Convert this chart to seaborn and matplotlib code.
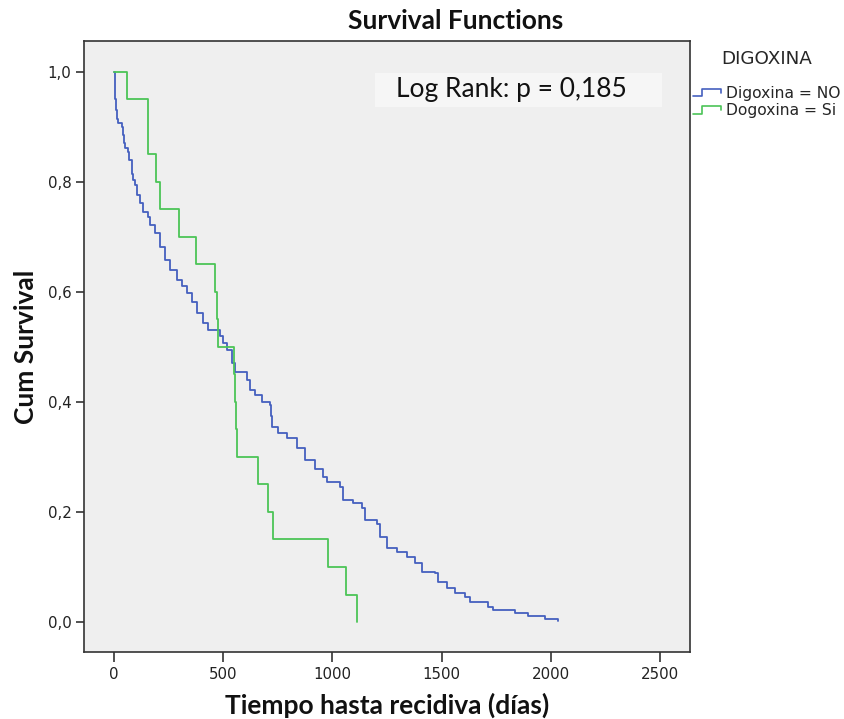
import numpy as np
import pandas as pd
import matplotlib
matplotlib.use("Agg")
import matplotlib.pyplot as plt
import seaborn as sns
from matplotlib.legend_handler import HandlerBase
from matplotlib.lines import Line2D
from matplotlib.patches import Rectangle

# ---------------- data ----------------
group_labels = ["Digoxina = NO", "Dogoxina = Si"]

no_time = [0, 3, 6, 9, 14, 20, 35, 43, 46, 50, 65, 70, 81, 84, 86, 96, 107, 119,
           134, 154, 165, 188, 211, 233, 256, 287, 310, 333, 356, 379, 409, 432,
           485, 500, 516, 539, 554, 608, 623, 646, 676, 714, 718, 722, 752, 791,
           837, 875, 920, 958, 974, 1035, 1050, 1096, 1134, 1149, 1203, 1218,
           1249, 1294, 1340, 1378, 1409, 1470, 1485, 1523, 1561, 1607, 1630,
           1714, 1737, 1836, 1894, 1973, 2034]
no_surv = [1.0, 0.975, 0.95, 0.93, 0.915, 0.907, 0.90, 0.885, 0.87, 0.861, 0.855,
           0.84, 0.828, 0.815, 0.804, 0.795, 0.776, 0.761, 0.746, 0.737, 0.722,
           0.707, 0.682, 0.658, 0.64, 0.622, 0.610, 0.598, 0.582, 0.561, 0.543,
           0.531, 0.519, 0.507, 0.494, 0.470, 0.455, 0.44, 0.422, 0.413, 0.40,
           0.394, 0.375, 0.355, 0.343, 0.334, 0.316, 0.295, 0.279, 0.264, 0.255,
           0.246, 0.222, 0.216, 0.207, 0.185, 0.179, 0.155, 0.134, 0.128, 0.119,
           0.107, 0.0915, 0.0885, 0.073, 0.061, 0.052, 0.046, 0.037, 0.028,
           0.022, 0.016, 0.011, 0.0055, 0.002]

si_time = [0, 60, 157, 191, 211, 298, 375, 462, 470, 477, 548, 552, 557, 562,
           661, 707, 727, 978, 1061, 1111]
si_surv = [1.0, 0.95, 0.85, 0.80, 0.75, 0.70, 0.65, 0.60, 0.55, 0.50, 0.45,
           0.40, 0.35, 0.30, 0.25, 0.20, 0.15, 0.10, 0.05, 0.0]

x_ticks = [0, 500, 1000, 1500, 2000, 2500]
y_ticks = [0.0, 0.2, 0.4, 0.6, 0.8, 1.0]
y_tick_labels = ["0,0", "0,2", "0,4", "0,6", "0,8", "1,0"]

title = "Survival Functions"
x_label = "Tiempo hasta recidiva (días)"
y_label = "Cum Survival"
legend_title = "DIGOXINA"
annotation = "Log Rank: p = 0,185"

# ---------------- style ----------------
BLUE = "#4560bf"
GREEN = "#4cc457"
sns.set_theme(style="ticks")
plt.rcParams["font.family"] = ["DejaVu Sans"]

df = pd.concat([
    pd.DataFrame({"t": no_time, "S": no_surv, "grupo": group_labels[0]}),
    pd.DataFrame({"t": si_time, "S": si_surv, "grupo": group_labels[1]}),
], ignore_index=True)

fig = plt.figure(figsize=(8.45, 7.19), dpi=100)
ax = fig.add_axes([84 / 845, 1 - 652 / 719, 606 / 845, 611 / 719])
ax.set_facecolor("#efefef")

sns.lineplot(data=df, x="t", y="S", hue="grupo",
             palette={group_labels[0]: BLUE, group_labels[1]: GREEN},
             drawstyle="steps-post", estimator=None, legend=False,
             linewidth=1.3, ax=ax)

ax.set_xlim(-137, 2637)
ax.set_ylim(-0.0545, 1.056)
ax.set_xticks(x_ticks)
ax.set_xticklabels([str(v) for v in x_ticks])
ax.set_yticks(y_ticks)
ax.set_yticklabels(y_tick_labels)
ax.tick_params(axis="x", direction="out", length=7.5, width=1.2,
               color="#333333", labelsize=10.8, labelcolor="#222222", pad=3)
ax.tick_params(axis="y", direction="out", length=6, width=1.2,
               color="#333333", labelsize=10.8, labelcolor="#222222", pad=3)
for s in ax.spines.values():
    s.set_color("#333333")
    s.set_linewidth(1.2)

lab_font = dict(family="Lato", weight="bold", size=19, color="#111111")
ax.set_xlabel(x_label, labelpad=8, **lab_font)
ax.set_ylabel(y_label, labelpad=7, **lab_font)
fig.text(456 / 845, 1 - 21 / 719, title, ha="center", va="center", **lab_font)

# annotation box
ax.add_patch(Rectangle((0.480, 0.892), 0.474, 0.056, transform=ax.transAxes,
                       facecolor="#f6f6f6", edgecolor="none", zorder=1))
ax.text(0.515, 0.920, annotation, transform=ax.transAxes, ha="left",
        va="center", family="Lato", size=19, color="#111111", zorder=3)


class StepHandler(HandlerBase):
    def create_artists(self, legend, orig_handle, xdescent, ydescent,
                       width, height, fontsize, trans):
        xs = np.array([0.0, 0.3, 0.3, 0.95, 0.95]) * width - xdescent
        ys = np.array([0.15, 0.15, 0.85, 0.85, 0.5]) * height - ydescent
        ln = Line2D(xs, ys, color=orig_handle.get_color(), linewidth=1.2)
        ln.set_transform(trans)
        return [ln]


handles = [Line2D([], [], color=BLUE), Line2D([], [], color=GREEN)]
leg = fig.legend(handles, group_labels, title=legend_title,
                 handler_map={Line2D: StepHandler()},
                 loc="upper left", bbox_to_anchor=(693 / 845, 1 - 50 / 719),
                 frameon=False, fontsize=11.2, title_fontsize=13.2,
                 handlelength=1.9, handleheight=0.7, handletextpad=0.25,
                 labelspacing=0.15, borderpad=0, borderaxespad=0)
try:
    leg._legend_box.sep = 13
except Exception:
    pass

fig.savefig("out.png", dpi=100)
